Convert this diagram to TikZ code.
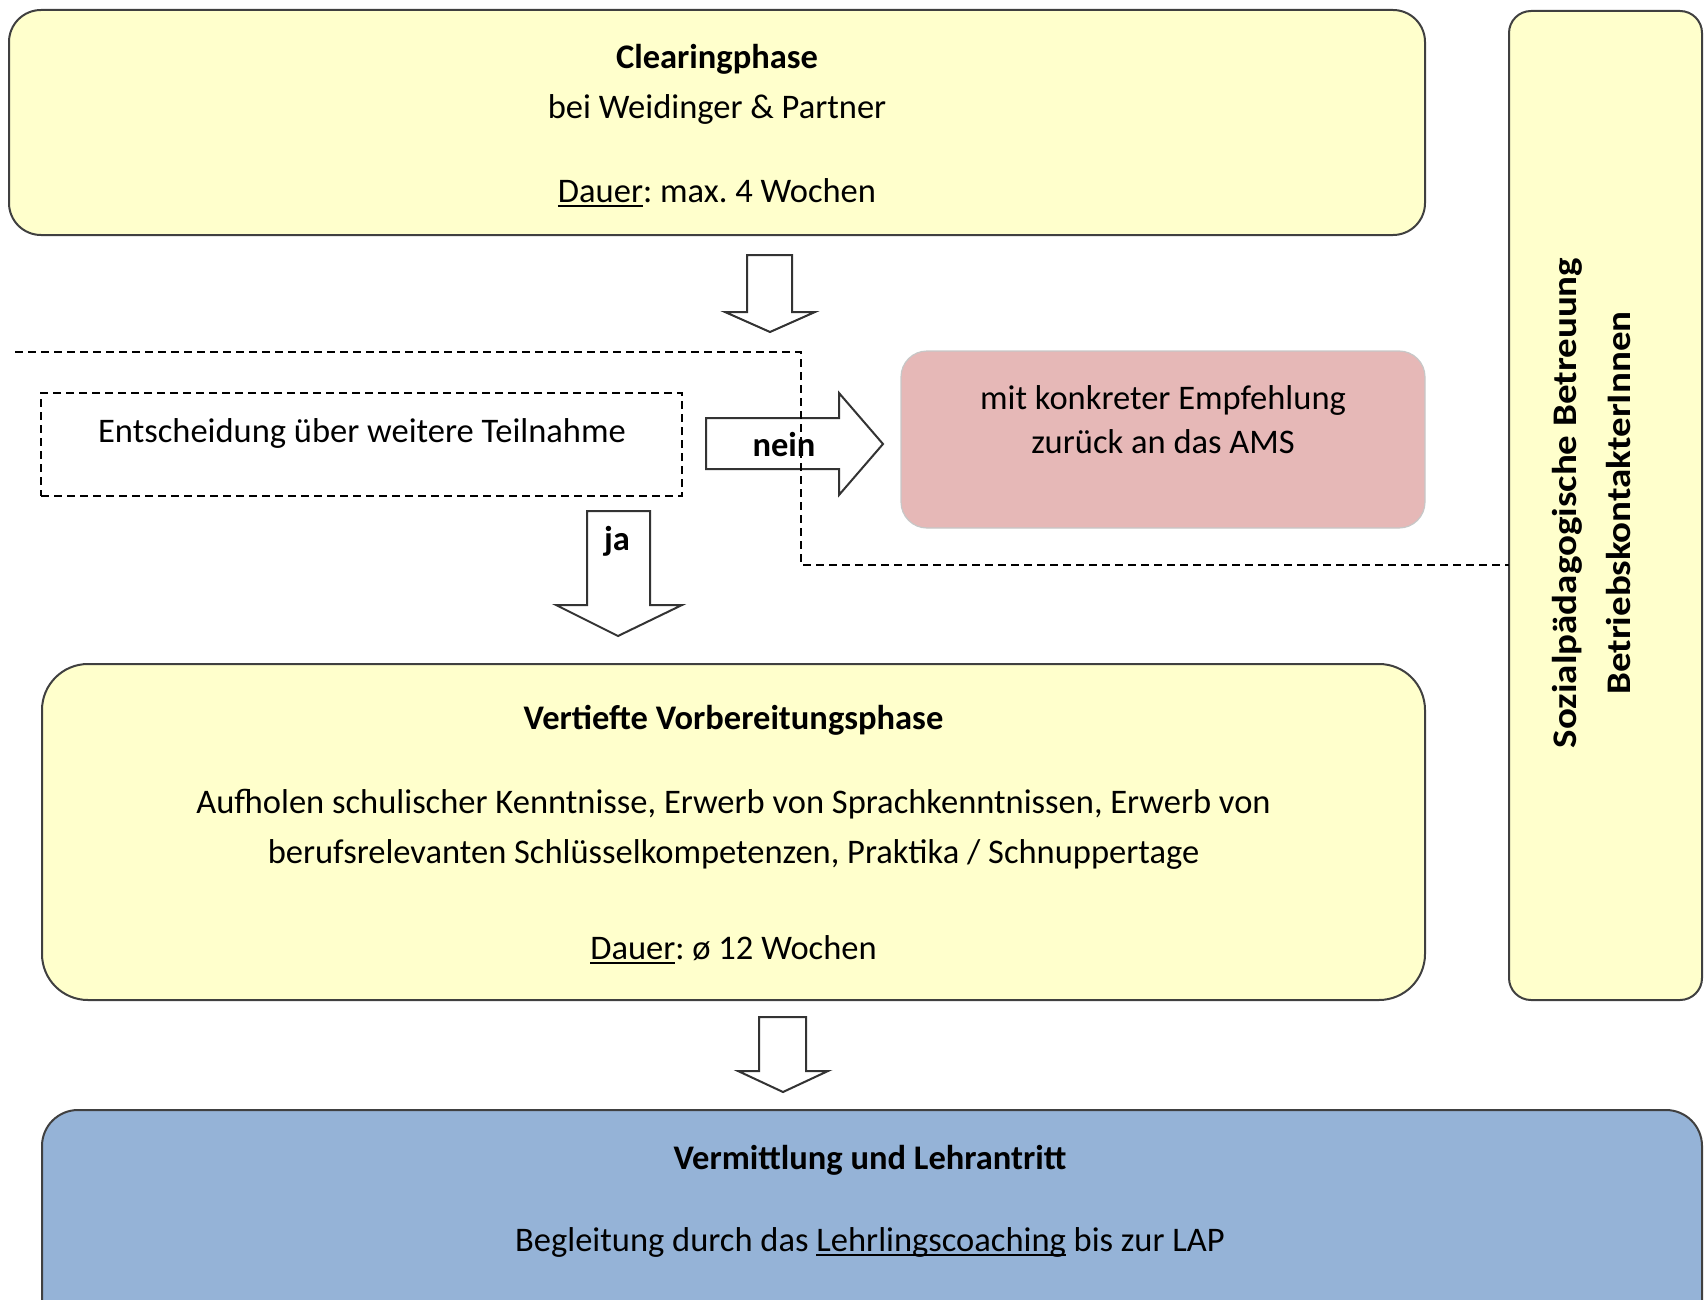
\documentclass[tikz,border=0pt]{standalone}
\usepackage{fontspec}
\setmainfont{Carlito}
\frenchspacing
\newcommand\fs{\fontsize{34.5}{40}\selectfont}
\newcommand\myul[1]{\setbox0\hbox{#1}\rlap{\rule[-0.14em]{\wd0}{0.06em}}\box0\relax}
\definecolor{yel}{HTML}{FFFFCC}
\definecolor{pinkfill}{HTML}{E6B8B7}
\definecolor{bluefill}{HTML}{95B3D7}
\definecolor{bord}{HTML}{404040}
\begin{document}
\begin{tikzpicture}[x=1pt,y=-1pt,
  box/.style={draw=bord, line width=2pt, inner sep=0pt, outer sep=0pt},
  txt/.style={anchor=base, inner sep=0pt, font=\fs},
  sidetxt/.style={txt, rotate=90, xscale=1.13},
  blockarrow/.style={draw=black!80, line width=2pt, fill=white, line join=miter},
  dashline/.style={line width=1.6pt, dash pattern=on 8pt off 5pt}]
\useasboundingbox (0,0) rectangle (1704,1300);
\clip (0,0) rectangle (1704,1300);

% boxes
\node[box, fill=yel, rounded corners=32pt, minimum width=1416pt, minimum height=225pt] (clear) at (717,122.5) {};
\node[box, fill=yel, rounded corners=22pt, minimum width=193pt, minimum height=989pt] (side) at (1605.5,505.5) {};
\node[draw=black, dashline, inner sep=0pt, minimum width=641pt, minimum height=103pt] (dec) at (361.5,444.5) {};
\node[draw=black!22, line width=1.2pt, fill=pinkfill, rounded corners=26pt, inner sep=0pt, minimum width=524pt, minimum height=177pt] (ams) at (1163,439.5) {};
\node[box, fill=yel, rounded corners=46pt, minimum width=1383pt, minimum height=336pt] (vert) at (733.5,832) {};
\node[box, fill=bluefill, rounded corners=36pt, minimum width=1660pt, minimum height=240pt] (verm) at (872,1230) {};

% block arrows
\draw[blockarrow] (747,255) -- (792,255) -- (792,312) -- (815,312) -- (770,332) -- (725,312) -- (747,312) -- cycle;
\draw[blockarrow] (587,511) -- (650,511) -- (650,605) -- (682,605) -- (618,636) -- (556,605) -- (587,605) -- cycle;
\draw[blockarrow] (706,418) -- (839,418) -- (839,393) -- (883,444) -- (839,495) -- (839,469) -- (706,469) -- cycle;
\draw[blockarrow] (759,1017) -- (806,1017) -- (806,1071) -- (828,1071) -- (783,1092) -- (738,1071) -- (759,1071) -- cycle;

% dashed separator
\coordinate (dstart) at (15,352);
\coordinate (dcorner) at (801,352);
\draw[dashline] (dstart) -- (dcorner) -- (801,565) -- (side.west |- 801,565);

% texts
\node[txt] (t1) at (717,69) {\bfseries Clearingphase};
\node[txt] (t2) at (717,119) {bei Weidinger \& Partner};
\node[txt] (t3) at (717,202) {\myul{Dauer}: max. 4 Wochen};
\node[txt] (t4) at (362,442) {Entscheidung über weitere Teilnahme};
\node[txt] (t5) at (784,456) {\bfseries nein};
\node[txt] (t6) at (1163,409) {mit konkreter Empfehlung};
\node[txt] (t7) at (1163,453) {zurück an das AMS};
\node[txt] (t8) at (617,550) {\bfseries ja};
\node[txt] (t9) at (733.5,729) {\bfseries Vertiefte Vorbereitungsphase};
\node[txt] (t10) at (733.5,813) {Aufholen schulischer Kenntnisse, Erwerb von Sprachkenntnissen, Erwerb von};
\node[txt] (t11) at (733.5,863) {berufsrelevanten Schlüsselkompetenzen, Praktika / Schnuppertage};
\node[txt] (t12) at (733.5,959) {\myul{Dauer}: ø 12 Wochen};
\node[txt] (t13) at (870,1169) {\bfseries Vermittlung und Lehrantritt};
\node[txt] (t14) at (870,1251) {Begleitung durch das \myul{Lehrlingscoaching} bis zur LAP};
\node[sidetxt] (t15) at (1576,503) {\bfseries Sozialpädagogische Betreuung};
\node[sidetxt] (t16) at (1630,503) {\bfseries BetriebskontakterInnen};
\end{tikzpicture}
\end{document}
